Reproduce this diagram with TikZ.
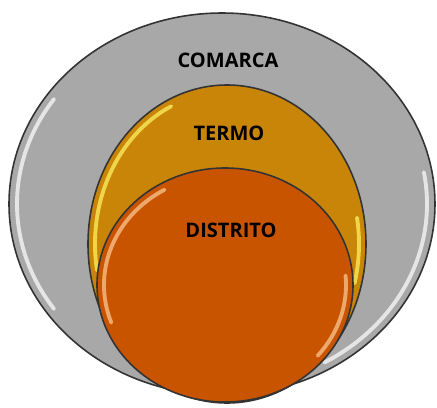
\documentclass[tikz,border=0pt]{standalone}
\usepackage{fontspec}
\setmainfont{Open Sans}
\usepackage{xcolor}
\usepackage{tikz}
\usetikzlibrary{calc}
\definecolor{comarcagray}{HTML}{A8A8A8}
\definecolor{termogold}{HTML}{C98508}
\definecolor{distritoorange}{HTML}{C85400}
\tikzset{
  rim/.style={draw=black!80, line width=0.9pt},
  shine/.style={white, line width=2.2pt, opacity=0.7, line cap=round},
  label/.style={font=\fontsize{11.4}{13}\selectfont\bfseries, text=black}
}
\begin{document}
\begin{tikzpicture} [x=0.02cm, y=0.02cm]
\useasboundingbox[fill=white] (0,0) rectangle (437,407);
% comarca
\filldraw[rim, fill=comarcagray] (222,203) ellipse [x radius=213, y radius=191];
\draw[shine] (222,203) ++(145:205 and 183) arc [start angle=145, end angle=215, x radius=205, y radius=183];
\draw[shine] (222,203) ++(-60:205 and 183) arc [start angle=-60, end angle=10, x radius=205, y radius=183];
% termo
\filldraw[rim, fill=termogold] (227,163) ellipse [x radius=139, y radius=159];
\draw[shine, yellow!60] (227,163) ++(115:132 and 152) arc [start angle=115, end angle=190, x radius=132, y radius=152];
\draw[shine, yellow!60] (227,163) ++(-15:132 and 152) arc [start angle=-15, end angle=10, x radius=132, y radius=152];
% distrito
\filldraw[rim, fill=distritoorange] (225,122) ellipse [x radius=128, y radius=117];
\draw[shine, orange!40] (225,122) ++(120:121 and 110) arc [start angle=120, end angle=200, x radius=121, y radius=110];
\draw[shine, orange!40] (225,122) ++(-40:121 and 110) arc [start angle=-40, end angle=5, x radius=121, y radius=110];
% labels
\node[label] (comarca) at (228,347) {COMARCA};
\node[label] (termo) at (229,274) {TERMO};
\node[label] (distrito) at (231,177) {DISTRITO};
\end{tikzpicture}
\end{document}
